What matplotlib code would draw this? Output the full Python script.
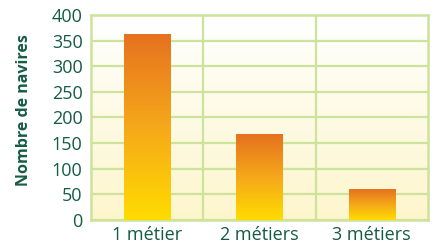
import numpy as np
import matplotlib
matplotlib.use("Agg")
from matplotlib import pyplot as plt
from matplotlib.colors import LinearSegmentedColormap
from matplotlib.patches import Rectangle

categories = ["1 métier", "2 métiers", "3 métiers"]
navires = [363, 167, 60]
yticks = [0, 50, 100, 150, 200, 250, 300, 350, 400]

dark_green = "#165c44"
grid_green = "#cde39c"

plt.rcParams["font.family"] = ["Open Sans", "DejaVu Sans"]

fig = plt.figure(figsize=(4.33, 2.48), dpi=100)
ax = fig.add_axes([0.210, 0.113, 0.778, 0.827])
ax.set_xlim(-0.5, 2.5)
ax.set_ylim(0, 400)

# background gradient (white at top, pale yellow at bottom)
bg = LinearSegmentedColormap.from_list("bg", ["#fdf6cc", "#ffffff"])
grad = np.linspace(0, 1, 256).reshape(-1, 1)
ax.imshow(grad, cmap=bg, origin="lower", aspect="auto",
          extent=(-0.5, 2.5, 0, 400), zorder=0)

# bars with vertical gradient yellow -> orange
bar_cmap = LinearSegmentedColormap.from_list("bar", ["#ffdc00", "#f5a81a", "#e6711f"])
width = 0.41
for i, v in enumerate(navires):
    rect = Rectangle((i - width / 2, 0), width, v, facecolor="none",
                     edgecolor="none", zorder=3)
    ax.add_patch(rect)
    im = ax.imshow(grad, cmap=bar_cmap, origin="lower", aspect="auto",
                   extent=(i - width / 2, i + width / 2, 0, v), zorder=3)
    im.set_clip_path(rect)

# grid
for y in yticks:
    ax.axhline(y, color=grid_green, lw=1.6, zorder=1)
for x in [0.5, 1.5]:
    ax.axvline(x, color=grid_green, lw=1.6, zorder=1)
for s in ax.spines.values():
    s.set_color(grid_green)
    s.set_linewidth(1.8)

ax.set_xticks(range(len(categories)))
ax.set_xticklabels(categories)
ax.set_yticks(yticks)
ax.tick_params(length=0, labelsize=13, colors=dark_green, pad=6)
ax.tick_params(axis="x", pad=4)
ax.set_ylabel("Nombre de navires", color=dark_green, fontsize=11.5,
              fontweight="bold")
ax.yaxis.set_label_coords(-0.175, 0.535)

fig.savefig("out.png", dpi=100, facecolor="white")
